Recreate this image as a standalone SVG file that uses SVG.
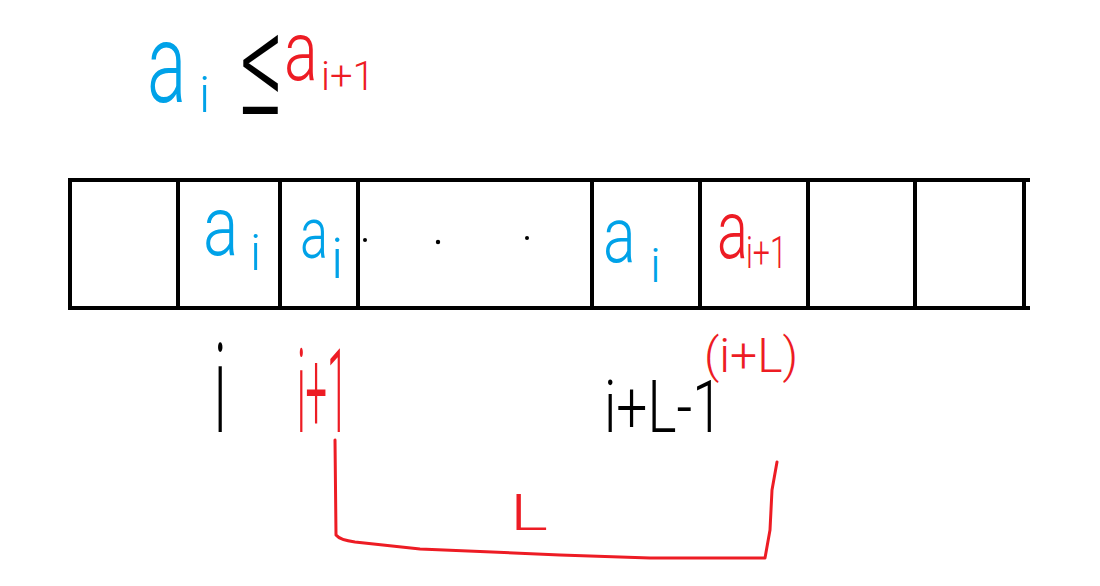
<svg xmlns="http://www.w3.org/2000/svg" width="1100" height="586" viewBox="0 0 1100 586">
<style>
.t{font-family:Roboto,"Liberation Sans",sans-serif;font-weight:300}
.b{fill:#00a2e8}.r{fill:#ed1c24}.k{fill:#000}
.grid{stroke:#000;stroke-width:4;fill:none;stroke-linecap:square}
.ln{fill:none;stroke-width:3;stroke-linecap:round;stroke-linejoin:round}
</style>
<rect width="1100" height="586" fill="#fff"/>
<g id="formula">
<text class="t b" font-size="70" transform="translate(147,102) scale(1.05,1.6)">a</text>
<text class="t b" font-size="50" x="199" y="112">i</text>
<text class="t k" font-size="90" transform="translate(240,114) scale(0.95,1.6)">≤</text>
<text class="t r" font-size="60" transform="translate(284,80) scale(1.05,1.4)">a</text>
<text class="t r" font-size="40" x="321" y="90">i+1</text>
</g>
<g id="array">
<path class="grid" d="M70,180H1028M70,308H1028M70,180V308M178,180V308M280,180V308M358,180V308M592,180V308M700,180V308M808,180V308M915,180V308M1024,180V308"/>
</g>
<g id="cell-ai-1">
<text class="t b" font-size="60" transform="translate(203,255) scale(1.1,1.4)">a</text>
<text class="t b" font-size="50" x="250" y="270">i</text>
</g>
<g id="cell-ai-2">
<text class="t b" font-size="50" transform="translate(300,258) scale(1.05,1.45)">a</text>
<text class="t b" font-size="55" x="331" y="278">i</text>
</g>
<g id="dots">
<circle cx="365" cy="240" r="2"/>
<circle cx="438" cy="242" r="2.2"/>
<circle cx="527" cy="238" r="2"/>
</g>
<g id="cell-ai-3">
<text class="t b" font-size="58" transform="translate(603,262) scale(1.05,1.35)">a</text>
<text class="t b" font-size="48" x="650" y="282">i</text>
</g>
<g id="cell-ai1">
<text class="t r" font-size="55" transform="translate(717,258) scale(1.05,1.5)">a</text>
<text class="t r" font-size="32" transform="translate(746,268) scale(0.95,1.4)">i+1</text>
</g>
<g id="idx-i">
<text class="t k" font-size="50" transform="translate(214,432) scale(1.1,2.5)">i</text>
</g>
<g id="idx-i1">
<text class="t r" font-size="40" transform="translate(297,432) scale(0.95,2.9)">i+1</text>
</g>
<g id="idx-iL">
<text class="t r" font-size="48" x="704" y="372">(i+L)</text>
</g>
<g id="idx-iL1">
<text class="t k" font-size="55" transform="translate(604,432) scale(1,1.3)">i+L-1</text>
</g>
<g id="connectors">
<path class="ln" stroke="#ed1c24" d="M335,440 L336,535 Q340,540 355,542 L420,549 L560,555 L650,558 L765,558 L770,530 L772,490 L777,462"/>
</g>
<g id="len">
<text class="t r" font-size="45" transform="translate(510,530) scale(1.6,1.1)">L</text>
</g>
</svg>
